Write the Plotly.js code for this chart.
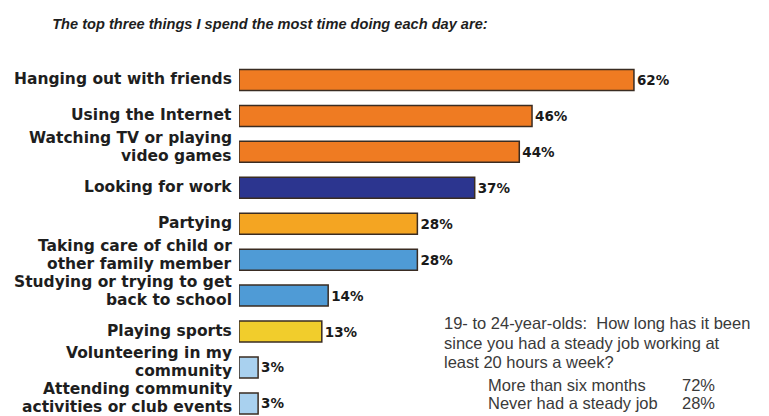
<!DOCTYPE html>
<html>
<head>
<meta charset="utf-8">
<script src="https://cdn.plot.ly/plotly-3.0.1.min.js"></script>
<style>html,body{margin:0;padding:0;background:#fff;}#chart{width:769px;height:416px;}</style>
</head>
<body>
<div id="chart"></div>
<script>
// ---- data ----
var categories = [
  "Hanging out with friends",
  "Using the Internet",
  "Watching TV or playing<br>video games",
  "Looking for work",
  "Partying",
  "Taking care of child or<br>other family member",
  "Studying or trying to get<br>back to school",
  "Playing sports",
  "Volunteering in my<br>community",
  "Attending community<br>activities or club events"
];
var values = [62, 46, 44, 37, 28, 28, 14, 13, 3, 3];
var barColors = ["#EF7B22", "#EF7B22", "#EF7B22", "#2C358F", "#F4A522",
                 "#4F9BD6", "#4F9BD6", "#F1CD2C", "#A9D1EF", "#A9D1EF"];
var titleText = "The top three things I spend the most time doing each day are:";
var questionLines = [
  "19- to 24-year-olds:  How long has it been",
  "since you had a steady job working at",
  "least 20 hours a week?"
];
var answerLabels = ["More than six months", "Never had a steady job"];
var answerValues = [72, 28];

// ---- chart ----
var ids = categories.map(function (c, i) { return "c" + i; });

var trace = {
  type: "bar",
  orientation: "h",
  y: ids,
  x: values,
  marker: { color: barColors, line: { color: "#3a2c22", width: 1.5 } },
  text: values.map(function (v) { return v + "%"; }),
  textposition: "outside",
  cliponaxis: false,
  textfont: { family: "DejaVu Sans, sans-serif", size: 13.5, color: "#1a1a1a", weight: "bold" },
  hoverinfo: "none"
};

var annotations = [];
var labFont = { family: "DejaVu Sans, sans-serif", size: 15.5, color: "#1e1e1e", weight: "bold" };
categories.forEach(function (c, i) {
  var lines = c.split("<br>");
  var shifts = lines.length === 1 ? [1] : [14, -4];
  lines.forEach(function (ln, k) {
    annotations.push({
      xref: "paper", x: 0, xanchor: "right", xshift: -6,
      yref: "y", y: ids[i], yanchor: "middle", yshift: shifts[k],
      text: "<b>" + ln + "</b>", showarrow: false, font: labFont, borderpad: 0
    });
  });
});

var qFont = { family: "Liberation Sans, Arial, sans-serif", size: 16.5, color: "#3a3a3a" };
var qY = [0.263, 0.206, 0.153];
questionLines.forEach(function (ln, k) {
  annotations.push({ xref: "paper", yref: "paper", x: 0.385, y: qY[k], xanchor: "left", yanchor: "middle",
    text: ln, showarrow: false, font: qFont, borderpad: 0 });
});
var aY = [0.088, 0.037];
answerLabels.forEach(function (ln, k) {
  annotations.push({ xref: "paper", yref: "paper", x: 0.468, y: aY[k], xanchor: "left", yanchor: "middle",
    text: ln, showarrow: false, font: qFont, borderpad: 0 });
  annotations.push({ xref: "paper", yref: "paper", x: 0.9, y: aY[k], xanchor: "right", yanchor: "middle",
    text: answerValues[k] + "%", showarrow: false, font: qFont, borderpad: 0 });
});

var layout = {
  width: 769, height: 416,
  margin: { l: 239, r: 0, t: 62, b: 0 },
  paper_bgcolor: "#ffffff", plot_bgcolor: "#ffffff",
  title: {
    text: "<b><i>" + titleText + "</i></b>",
    xref: "container", yref: "container", x: 0.351, y: 0.942, xanchor: "center", yanchor: "middle",
    font: { family: "Liberation Sans, Arial, sans-serif", size: 14.6, color: "#1e1e1e" }
  },
  xaxis: { range: [0, 83.2], visible: false, fixedrange: true },
  yaxis: { type: "category", range: [9.35, -0.5], showticklabels: false, showgrid: false,
           zeroline: false, showline: false, ticks: "", fixedrange: true },
  bargap: 0.415,
  showlegend: false,
  annotations: annotations
};

Plotly.newPlot("chart", [trace], layout, { displayModeBar: false, staticPlot: true });
</script>
</body>
</html>
